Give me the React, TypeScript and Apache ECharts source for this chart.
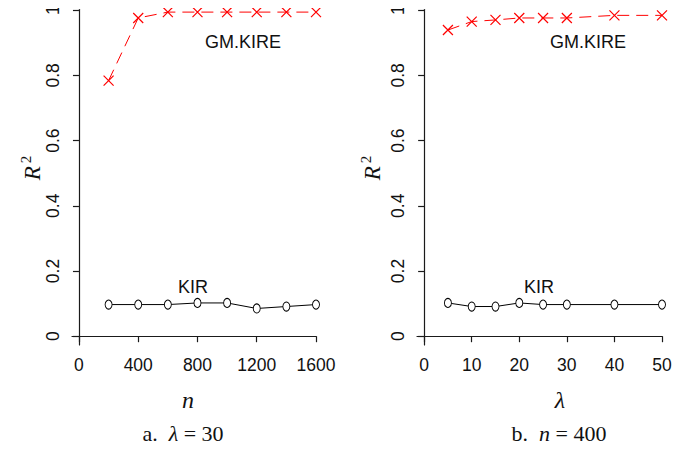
import React, { useEffect, useRef } from "react";
import * as echarts from "echarts";

const nValues = [200, 400, 600, 800, 1000, 1200, 1400, 1600];
const gmKireByN = [0.784, 0.976, 0.994, 0.994, 0.994, 0.994, 0.994, 0.994];
const kirByN = [0.097, 0.097, 0.097, 0.102, 0.102, 0.085, 0.091, 0.097];

const lambdaValues = [5, 10, 15, 20, 25, 30, 40, 50];
const gmKireByLambda = [0.939, 0.965, 0.970, 0.976, 0.976, 0.976, 0.984, 0.984];
const kirByLambda = [0.102, 0.091, 0.091, 0.102, 0.097, 0.097, 0.097, 0.097];

const yTicks = [0, 0.2, 0.4, 0.6, 0.8, 1];
const nTicks = [0, 400, 800, 1200, 1600];
const lambdaTicks = [0, 10, 20, 30, 40, 50];

const SANS = "'Liberation Sans', Arial, sans-serif";
const SERIF = "'Liberation Serif', 'DejaVu Serif', serif";
const CROSS = "path://M0,0L10,10M10,0L0,10";

export default function App() {
  const ref = useRef<HTMLDivElement>(null);
  useEffect(() => {
    if (!ref.current) return;
    const chart = echarts.init(ref.current, null, { renderer: "svg" });
    const axisLineStyle = { color: "#1a1a1a", width: 1.2 };
    const xAxisCommon = (ticks: number[]) => ({
      type: "value" as const,
      axisLine: { show: true, lineStyle: axisLineStyle },
      axisTick: { show: true, length: 6, lineStyle: axisLineStyle, customValues: ticks },
      axisLabel: {
        customValues: ticks,
        color: "#111",
        fontSize: 17.5,
        fontFamily: SANS,
        margin: 11,
        formatter: (v: number) => String(v),
      },
      splitLine: { show: false },
    });
    const yAxisCommon = {
      type: "value" as const,
      min: -0.027,
      max: 1.002,
      axisLine: { show: true, lineStyle: axisLineStyle },
      axisTick: { show: true, length: 6, lineStyle: axisLineStyle, customValues: yTicks },
      axisLabel: {
        customValues: yTicks,
        rotate: 90,
        color: "#111",
        fontSize: 17.5,
        fontFamily: SANS,
        margin: 10,
        formatter: (v: number) => String(Number(v.toFixed(1))),
      },
      splitLine: { show: false },
    };
    const gmSeries = (xs: number[], ys: number[], idx: number) => ({
      type: "line" as const,
      xAxisIndex: idx,
      yAxisIndex: idx,
      data: xs.map((x, i) => [x, ys[i]]),
      lineStyle: { color: "#ff0000", width: 1, type: [12, 7] },
      symbol: CROSS,
      symbolSize: 10,
      itemStyle: { color: "#ff0000", borderColor: "#ff0000", borderWidth: 1.2 },
      silent: true,
    });
    const kirSeries = (xs: number[], ys: number[], idx: number) => ({
      type: "line" as const,
      xAxisIndex: idx,
      yAxisIndex: idx,
      data: xs.map((x, i) => [x, ys[i]]),
      lineStyle: { color: "#000", width: 1 },
      symbol: "circle",
      symbolSize: [7, 9],
      itemStyle: { color: "#fff", borderColor: "#000", borderWidth: 1 },
      silent: true,
    });
    const labelText = (text: string, x: number, y: number, extra: any = {}) => ({
      type: "text",
      x,
      y,
      style: {
        text,
        fontFamily: SANS,
        fontSize: 18,
        fill: "#111",
        align: "center",
        verticalAlign: "middle",
        ...extra,
      },
    });
    const r2 = (x: number, y: number) => ({
      type: "text",
      x,
      y,
      rotation: Math.PI / 2,
      style: {
        text: "{i|R}{s|2}",
        align: "center",
        verticalAlign: "middle",
        rich: {
          i: { fontFamily: SERIF, fontStyle: "italic", fontSize: 23, fill: "#111" },
          s: { fontFamily: SERIF, fontSize: 15, fill: "#111", padding: [0, 0, 12, 3] },
        },
      },
    });
    const caption = (prefix: string, sym: string, rest: string, x: number, y: number) => ({
      type: "text",
      x,
      y,
      style: {
        text: `{u|${prefix}}{i|${sym}}{u|${rest}}`,
        align: "center",
        verticalAlign: "middle",
        rich: {
          u: { fontFamily: SERIF, fontSize: 22, fill: "#111" },
          i: { fontFamily: SERIF, fontStyle: "italic", fontSize: 22, fill: "#111" },
        },
      },
    });
    chart.setOption({
      animation: false,
      grid: [
        { left: 72, top: 9.5, width: 244, height: 335.5 },
        { left: 417, top: 9.5, width: 245, height: 335.5 },
      ],
      xAxis: [
        { ...xAxisCommon(nTicks), gridIndex: 0, min: -47, max: 1600 },
        { ...xAxisCommon(lambdaTicks), gridIndex: 1, min: -1.5, max: 50 },
      ],
      yAxis: [
        { ...yAxisCommon, gridIndex: 0 },
        { ...yAxisCommon, gridIndex: 1 },
      ],
      series: [
        gmSeries(nValues, gmKireByN, 0),
        kirSeries(nValues, kirByN, 0),
        gmSeries(lambdaValues, gmKireByLambda, 1),
        kirSeries(lambdaValues, kirByLambda, 1),
      ],
      graphic: [
        labelText("GM.KIRE", 243, 42),
        labelText("KIR", 193, 287),
        labelText("GM.KIRE", 588, 42),
        labelText("KIR", 539, 287),
        labelText("n", 188, 400, { fontFamily: SERIF, fontStyle: "italic", fontSize: 24 }),
        labelText("λ", 560, 400, { fontFamily: SERIF, fontStyle: "italic", fontSize: 24 }),
        r2(32, 168),
        r2(372, 168),
        caption("a.  ", "λ", " = 30", 183, 433),
        caption("b.  ", "n", " = 400", 559, 433),
      ],
    });
    return () => chart.dispose();
  }, []);
  return <div ref={ref} style={{ width: 689, height: 451, margin: -8 }} />;
}
